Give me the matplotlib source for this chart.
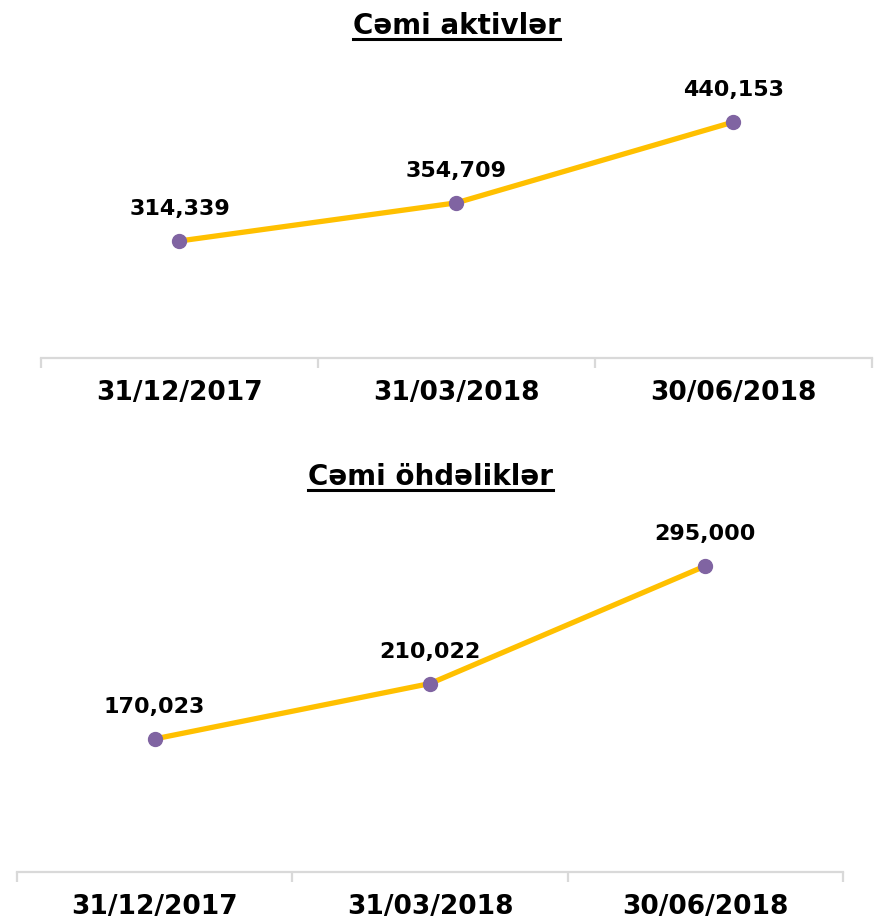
import matplotlib
matplotlib.use("Agg")
import matplotlib.pyplot as plt
from matplotlib.lines import Line2D

dates = ["31/12/2017", "31/03/2018", "30/06/2018"]
assets = [314339, 354709, 440153]
liabilities = [170023, 210022, 295000]

LINE_COLOR = "#FFC000"
MARKER_COLOR = "#8064A2"
AXIS_COLOR = "#D9D9D9"

plt.rcParams["font.family"] = ["DejaVu Sans"]

fig = plt.figure(figsize=(8.76, 9.23), dpi=100)

# title, values, axes rect, y limits, title baseline (px from top)
panels = [
    ("Cəmi aktivlər", assets, [0.0468, 0.6121, 0.9486, 0.3229], (190600, 505700), 34),
    ("Cəmi öhdəliklər", liabilities, [0.0194, 0.0553, 0.9430, 0.3922], (73900, 335450), 485),
]

titles = []
for title, vals, rect, ylim, base in panels:
    ax = fig.add_axes(rect)
    x = list(range(len(dates)))
    ax.plot(x, vals, color=LINE_COLOR, lw=3.8, zorder=2, solid_capstyle="round")
    ax.plot(x, vals, "o", color=MARKER_COLOR, ms=10, zorder=3, clip_on=False)
    for xi, v in zip(x, vals):
        ax.annotate(f"{v:,}", (xi, v), xytext=(0, 23), textcoords="offset points",
                    ha="center", va="center", fontsize=16, fontweight="heavy")
    ax.set_xlim(-0.5, len(dates) - 0.5)
    ax.set_ylim(*ylim)
    for s in ["top", "left", "right"]:
        ax.spines[s].set_visible(False)
    ax.spines["bottom"].set_color(AXIS_COLOR)
    ax.spines["bottom"].set_linewidth(1.6)
    ax.set_yticks([])
    ax.set_xticks(x)
    ax.set_xticklabels(dates, fontsize=19, fontweight="bold")
    ax.tick_params(axis="x", which="major", length=0, pad=16)
    ax.set_xticks([i - 0.5 for i in range(len(dates) + 1)], minor=True)
    ax.tick_params(axis="x", which="minor", length=7, width=1.6, color=AXIS_COLOR)

    cx = rect[0] + rect[2] / 2
    t = fig.text(cx, 1 - base / 923, title, ha="center", va="baseline",
                 fontsize=20, fontweight="bold")
    titles.append((t, base))

# underline the titles
fig.canvas.draw()
renderer = fig.canvas.get_renderer()
for t, base in titles:
    bb = t.get_window_extent(renderer).transformed(fig.transFigure.inverted())
    yl = 1 - (base + 5) / 923
    fig.add_artist(Line2D([bb.x0, bb.x1], [yl, yl], color="black", lw=2.2,
                          transform=fig.transFigure))

fig.savefig("out.png", dpi=100)
